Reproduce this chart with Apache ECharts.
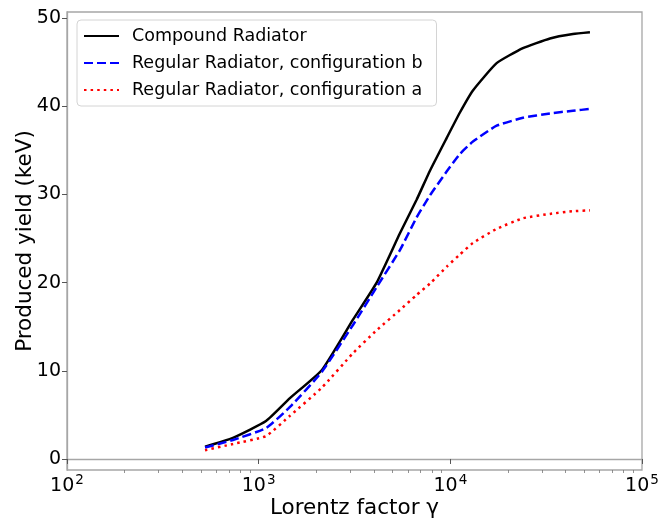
<!DOCTYPE html>
<html>
<head>
<meta charset="utf-8">
<script src="https://cdn.jsdelivr.net/npm/echarts@6/dist/echarts.min.js"></script>
<style>html,body{margin:0;padding:0;background:#fff}#c{width:670px;height:519px}</style>
</head>
<body>
<div id="c"></div>
<script>
// Lorentz factor samples
const gammaValues = [525, 734, 1092, 1456, 2139, 3105, 4127, 5458, 6668, 7828, 9565, 11220, 13120, 17440, 23920, 33100, 43600, 53500];
const compoundYield = [1.4, 2.4, 4.3, 6.9, 10.1, 15.8, 20.0, 25.6, 29.4, 32.7, 36.4, 39.3, 41.8, 44.9, 46.6, 47.7, 48.2, 48.4];
const regularB = [1.3, 2.15, 3.5, 5.9, 9.9, 15.2, 19.5, 23.7, 27.4, 29.9, 32.6, 34.6, 36.0, 37.8, 38.7, 39.2, 39.5, 39.7];
const regularA = [1.0, 1.7, 2.6, 4.9, 8.1, 12.0, 14.6, 16.9, 18.6, 19.9, 21.8, 23.2, 24.5, 26.1, 27.3, 27.8, 28.1, 28.2];
const seriesNames = ['Compound Radiator', 'Regular Radiator, configuration b', 'Regular Radiator, configuration a'];
const xMajorTicks = [100, 1000, 10000, 100000];
const xMinorTicks = [200,300,400,500,600,700,800,900,2000,3000,4000,5000,6000,7000,8000,9000,20000,30000,40000,50000,60000,70000,80000,90000];
const yTicks = [0, 10, 20, 30, 40, 50];

const FONT = 'DejaVu Sans';
const AXIS_COLOR = '#a6a6a6';
const pairs = vals => gammaValues.map((g, i) => [g, vals[i]]);

const chart = echarts.init(document.getElementById('c'), null, {renderer: 'canvas'});
chart.setOption({
  animation: false,
  backgroundColor: '#ffffff',
  textStyle: {fontFamily: FONT},
  grid: {left: 67, right: 28, top: 12, bottom: 49, containLabel: false, outerBoundsMode: 'none',
         show: true, borderColor: AXIS_COLOR, borderWidth: 1.3, backgroundColor: 'transparent'},
  legend: {
    orient: 'vertical', left: 77, top: 20,
    itemWidth: 35, itemHeight: 14, itemGap: 7,
    padding: [6, 14, 6, 6],
    backgroundColor: '#ffffff', borderColor: '#d4d4d4', borderWidth: 1, borderRadius: 4,
    itemStyle: {opacity: 0},
    textStyle: {fontFamily: FONT, fontSize: 17.5, color: '#000', lineHeight: 20, padding: [0, 0, 0, 8]},
    data: seriesNames
  },
  xAxis: [{
    type: 'log', logBase: 10, min: 100, max: 100000,
    name: 'Lorentz factor \u03b3', nameLocation: 'middle', nameGap: 27, nameMoveOverlap: false,
    nameTextStyle: {fontFamily: FONT, fontSize: 21.5, color: '#000'},
    axisLine: {show: true, lineStyle: {color: AXIS_COLOR, width: 1.3}},
    axisTick: {show: true, inside: false, length: 5, customValues: xMajorTicks, lineStyle: {color: '#555', width: 1}},
    axisLabel: {
      customValues: xMajorTicks, margin: 3, color: '#000',
      formatter: v => '{b|10}{s|' + Math.round(Math.log10(v)) + '}',
      rich: {
        b: {fontFamily: FONT, fontSize: 19, color: '#000'},
        s: {fontFamily: FONT, fontSize: 13.5, color: '#000', padding: [0, 0, 12, 1]}
      }
    },
    splitLine: {show: false}, minorTick: {show: false}
  }, {
    type: 'log', logBase: 10, min: 100, max: 100000, position: 'bottom', gridIndex: 0,
    axisLine: {show: false},
    axisTick: {show: true, inside: false, length: 3, customValues: xMinorTicks, lineStyle: {color: '#777', width: 0.8}},
    axisLabel: {show: false}, splitLine: {show: false}
  }],
  yAxis: {
    type: 'value', min: -1.25, max: 50.7,
    name: 'Produced yield (keV)', nameLocation: 'middle', nameGap: 31, nameMoveOverlap: false,
    nameTextStyle: {fontFamily: FONT, fontSize: 21.5, color: '#000'},
    axisLine: {show: true, lineStyle: {color: AXIS_COLOR, width: 1.3}},
    axisTick: {show: true, inside: false, length: 5, customValues: yTicks, lineStyle: {color: '#555', width: 1}},
    axisLabel: {customValues: yTicks, fontFamily: FONT, fontSize: 19, color: '#000', margin: 6},
    splitLine: {show: false}
  },
  series: [
    {name: seriesNames[0], type: 'line', data: pairs(compoundYield), symbol: 'none', color: '#000000', smooth: 0.15,
     lineStyle: {color: '#000000', width: 2.5, type: 'solid'}},
    {name: seriesNames[1], type: 'line', data: pairs(regularB), symbol: 'none', color: '#0000ff', smooth: 0.15,
     lineStyle: {color: '#0000ff', width: 2.5, type: [9, 4], cap: 'butt'}},
    {name: seriesNames[2], type: 'line', data: pairs(regularA), symbol: 'none', color: '#ff0000', smooth: 0.15,
     lineStyle: {color: '#ff0000', width: 2.5, type: [2.5, 4.1], cap: 'butt'}}
  ]
});
</script>
</body>
</html>
